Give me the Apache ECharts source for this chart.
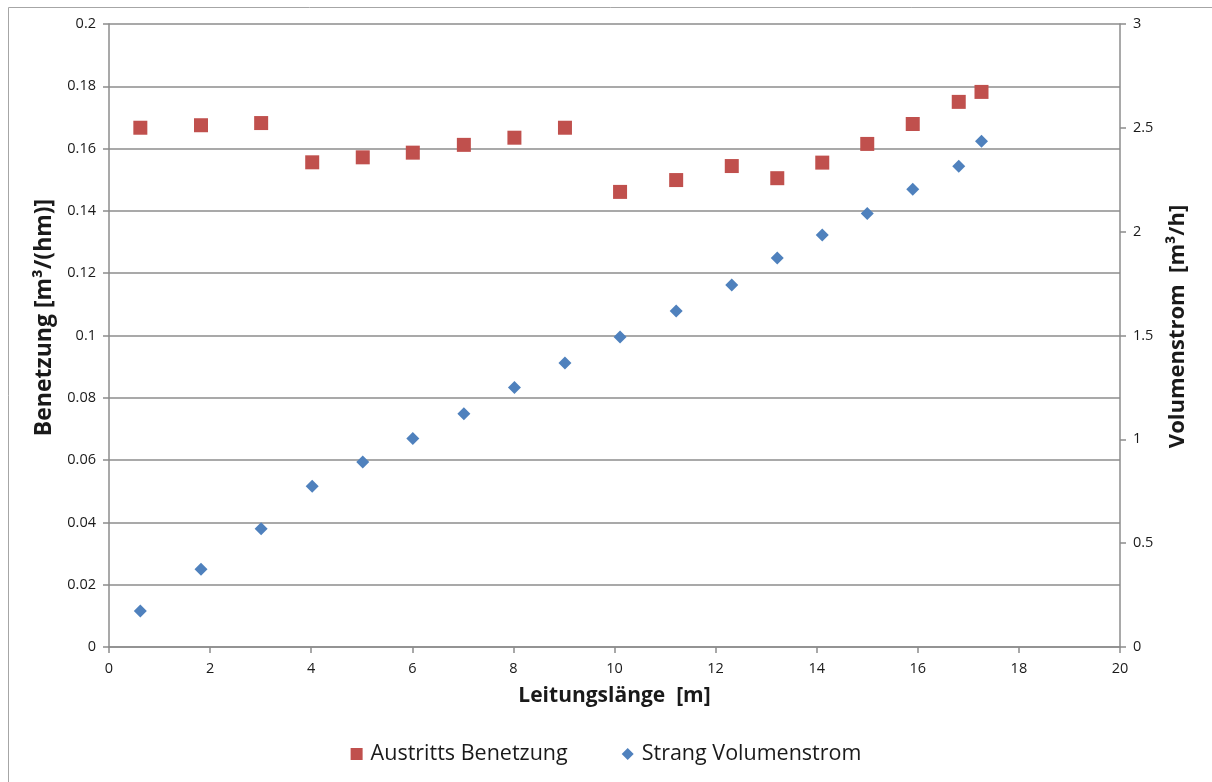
<!DOCTYPE html>
<html>
<head>
<meta charset="utf-8">
<script src="https://cdn.jsdelivr.net/npm/echarts@6/dist/echarts.min.js"></script>
<style>
  html, body { margin: 0; padding: 0; background: #fff; }
  #chart { width: 1212px; height: 782px; }
</style>
</head>
<body>
<div id="chart"></div>
<script>
// Leitungslänge [m] of each measuring point
const laenge = [0.62, 1.82, 3.01, 4.02, 5.02, 6.01, 7.02, 8.02, 9.02,
                10.11, 11.22, 12.32, 13.22, 14.11, 15.0, 15.9, 16.81, 17.26];
// Austritts Benetzung [m³/(hm)] (left axis)
const benetzung = [0.1667, 0.1675, 0.1682, 0.1556, 0.1572, 0.1587, 0.1612, 0.1635, 0.1667,
                   0.1461, 0.1499, 0.1544, 0.1505, 0.1555, 0.1615, 0.1679, 0.1750, 0.1782];
// Strang Volumenstrom [m³/h] (right axis)
const volumenstrom = [0.173, 0.374, 0.570, 0.774, 0.891, 1.004, 1.123, 1.249, 1.368,
                      1.493, 1.618, 1.743, 1.873, 1.984, 2.088, 2.204, 2.315, 2.435];

const FONT = '"Open Sans", Lato, sans-serif';
const AXIS_GREY = '#8c8c8c';
const TEXT = '#1a1a1a';

const chart = echarts.init(document.getElementById('chart'), null, { renderer: 'canvas' });

chart.setOption({
  animation: false,
  backgroundColor: '#ffffff',
  textStyle: { fontFamily: FONT },
  graphic: [{
    type: 'rect',
    shape: { x: 8.5, y: 7.5, width: 1400, height: 1000 },
    style: { fill: 'none', stroke: '#a6a6a6', lineWidth: 1 },
    silent: true,
    z: -1
  }],
  grid: { left: 109, right: 92, top: 24, bottom: 135 },
  legend: {
    bottom: 12,
    left: 'center',
    itemGap: 54,
    itemWidth: 12,
    itemHeight: 12,
    textStyle: { fontFamily: FONT, fontSize: 21.5, color: TEXT, padding: [0, 0, 0, 3] },
    data: [
      { name: 'Austritts Benetzung', icon: 'rect' },
      { name: 'Strang Volumenstrom', icon: 'diamond' }
    ]
  },
  xAxis: {
    type: 'value',
    min: 0, max: 20, interval: 2,
    name: 'Leitungslänge  [m]',
    nameLocation: 'middle',
    nameGap: 39,
    nameTextStyle: { fontFamily: FONT, fontSize: 21, fontWeight: 'bold', color: TEXT },
    axisLine: { show: true, lineStyle: { color: AXIS_GREY, width: 1.5 } },
    axisTick: { show: true, inside: false, length: 6, lineStyle: { color: AXIS_GREY, width: 1.5 } },
    axisLabel: { fontFamily: FONT, fontSize: 14.5, color: TEXT, margin: 14 },
    splitLine: { show: false }
  },
  yAxis: [{
    type: 'value',
    position: 'left',
    min: 0, max: 0.2, interval: 0.02,
    name: 'Benetzung [m³/(hm)]',
    nameLocation: 'middle',
    nameRotate: 90,
    nameGap: 53,
    nameTextStyle: {
      fontFamily: FONT, fontSize: 23, fontWeight: 'bold', color: TEXT,
      padding: [0, 0, 0, 36]
    },
    axisLine: { show: true, lineStyle: { color: AXIS_GREY, width: 1.5 } },
    axisTick: { show: true, inside: false, length: 6, lineStyle: { color: AXIS_GREY, width: 1.5 } },
    axisLabel: {
      fontFamily: FONT, fontSize: 14.5, color: TEXT, margin: 13,
      formatter: v => String(Math.round(v * 100) / 100)
    },
    splitLine: { show: true, lineStyle: { color: AXIS_GREY, width: 1.5 } }
  }, {
    type: 'value',
    position: 'right',
    min: 0, max: 3, interval: 0.5,
    name: 'Volumenstrom  [m³/h]',
    nameLocation: 'middle',
    nameRotate: 90,
    nameGap: 47,
    nameTextStyle: {
      fontFamily: FONT, fontSize: 22, fontWeight: 'bold', color: TEXT,
      padding: [0, 0, 0, 18]
    },
    axisLine: { show: true, lineStyle: { color: AXIS_GREY, width: 1.5 } },
    axisTick: { show: true, inside: false, length: 6, lineStyle: { color: AXIS_GREY, width: 1.5 } },
    axisLabel: { fontFamily: FONT, fontSize: 14.5, color: TEXT, margin: 13 },
    splitLine: { show: false }
  }],
  series: [{
    name: 'Austritts Benetzung',
    type: 'scatter',
    yAxisIndex: 0,
    symbol: 'rect',
    symbolSize: 14,
    itemStyle: { color: '#c0504d', opacity: 1 },
    data: laenge.map((x, i) => [x, benetzung[i]]),
    z: 3
  }, {
    name: 'Strang Volumenstrom',
    type: 'scatter',
    yAxisIndex: 1,
    symbol: 'diamond',
    symbolSize: 13,
    itemStyle: { color: '#4f81bd', opacity: 1 },
    data: laenge.map((x, i) => [x, volumenstrom[i]]),
    z: 3
  }]
});
</script>
</body>
</html>
